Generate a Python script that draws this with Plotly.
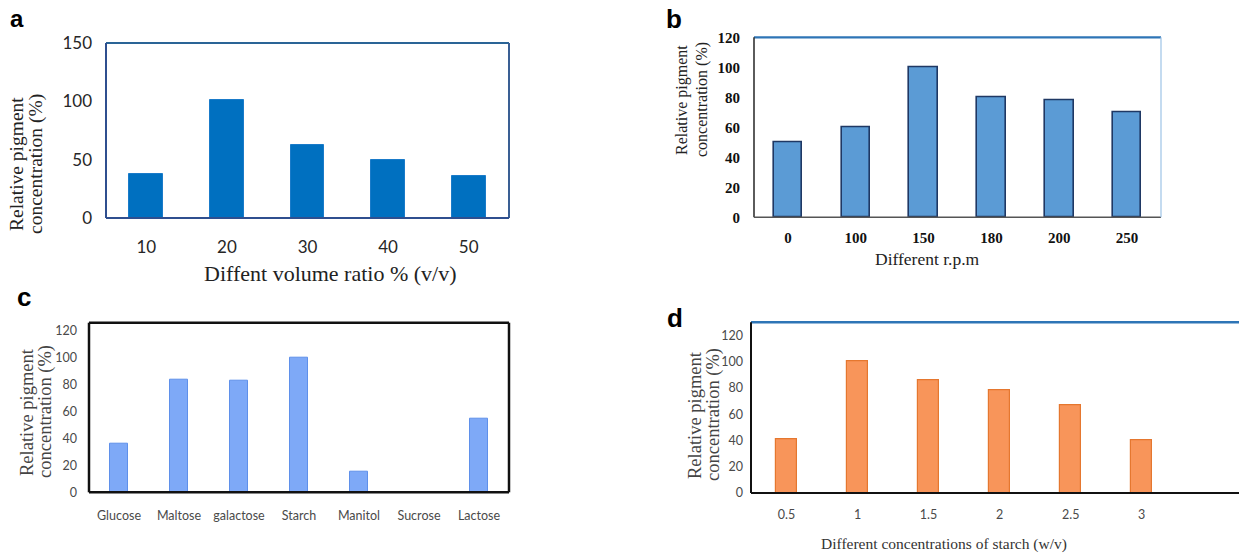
import plotly.graph_objects as go

W, H = 1239, 554

# ---------------- data ----------------
a_cats = ["10", "20", "30", "40", "50"]
a_vals = [38, 101, 63, 50, 36]

b_cats = ["0", "100", "150", "180", "200", "250"]
b_vals = [50, 60, 100, 80, 78, 70]

c_cats = ["Glucose", "Maltose", "galactose", "Starch", "Manitol", "Sucrose", "Lactose"]
c_vals = [36, 84, 83, 100, 15, 0, 55]

d_cats = ["0.5", "1", "1.5", "2", "2.5", "3"]
d_vals = [41, 100, 86, 78, 67, 40]

a_yticks = [0, 50, 100, 150]
b_yticks = [0, 20, 40, 60, 80, 100, 120]
c_yticks = [0, 20, 40, 60, 80, 100, 120]
d_yticks = [0, 20, 40, 60, 80, 100, 120]


def X(px):
    return px / W


def Y(px):
    return 1 - px / H


SERIF = "Liberation Serif, Times New Roman, serif"
SANS = "Lato, Open Sans, sans-serif"

fig = go.Figure()

fig.add_trace(go.Bar(x=a_cats, y=a_vals, width=0.42, xaxis="x", yaxis="y",
                     marker=dict(color="#0070C0", line=dict(color="#1A7BC9", width=1))))
fig.add_trace(go.Bar(x=b_cats, y=b_vals, width=0.42, xaxis="x2", yaxis="y2",
                     marker=dict(color="#5B9BD5", line=dict(color="#1F3864", width=1.6))))
fig.add_trace(go.Bar(x=c_cats, y=c_vals, width=0.29, xaxis="x3", yaxis="y3",
                     marker=dict(color="#7EA9F7", line=dict(color="#5F90EA", width=1))))
fig.add_trace(go.Bar(x=d_cats, y=d_vals, width=0.30, xaxis="x4", yaxis="y4",
                     marker=dict(color="#F8955A", line=dict(color="#E5772F", width=1.2))))

common_x = dict(showgrid=False, zeroline=False, showline=False, ticks="", type="category",
                automargin=False)
common_y = dict(showgrid=False, zeroline=False, showline=False, ticks="", automargin=False)

fig.update_layout(
    width=W, height=H,
    margin=dict(l=0, r=0, t=0, b=0, pad=0, autoexpand=False),
    paper_bgcolor="white", plot_bgcolor="white",
    showlegend=False,
    bargap=0,
    xaxis=dict(common_x, domain=[X(106), X(509)], anchor="y",
               tickfont=dict(family=SANS, size=17, color="#262626"), ticklabelstandoff=17),
    yaxis=dict(common_y, domain=[Y(218), Y(43)], anchor="x", range=[0, 150],
               tickvals=a_yticks, tickfont=dict(family=SANS, size=17, color="#262626"),
               ticklabelstandoff=13),
    xaxis2=dict(common_x, domain=[X(754), X(1161)], anchor="y2",
                tickfont=dict(family=SERIF, size=15, color="#111111", weight="bold"),
                ticklabelstandoff=10),
    yaxis2=dict(common_y, domain=[Y(217.3), Y(37.3)], anchor="x2", range=[0, 120],
                tickvals=b_yticks,
                tickfont=dict(family=SERIF, size=15, color="#111111", weight="bold"),
                ticklabelstandoff=13),
    xaxis3=dict(common_x, domain=[X(89), X(509)], anchor="y3",
                tickfont=dict(family=SANS, size=12.5, color="#4a4a4a"), ticklabelstandoff=14),
    yaxis3=dict(common_y, domain=[Y(492.3), Y(322.7)], anchor="x3", range=[0, 126],
                tickvals=c_yticks, tickfont=dict(family=SANS, size=12.5, color="#4a4a4a"),
                ticklabelstandoff=11),
    xaxis4=dict(common_x, domain=[X(751), 1.0], anchor="y4", range=[-0.5, 6.37],
                tickfont=dict(family=SANS, size=12.5, color="#4a4a4a"), ticklabelstandoff=12),
    yaxis4=dict(common_y, domain=[Y(493), Y(322.3)], anchor="x4", range=[0, 130],
                tickvals=d_yticks, tickfont=dict(family=SANS, size=12.5, color="#4a4a4a"),
                ticklabelstandoff=7),
)


def frame_line(ax, side, color, width):
    xr = f"{ax[0]} domain"
    yr = f"{ax[1]} domain"
    coords = {
        "top": (0, 1, 1, 1),
        "bottom": (0, 0, 1, 0),
        "left": (0, 0, 0, 1),
        "right": (1, 0, 1, 1),
    }[side]
    fig.add_shape(type="line", xref=xr, yref=yr,
                  x0=coords[0], y0=coords[1], x1=coords[2], y1=coords[3],
                  line=dict(color=color, width=width), layer="above")


# panel a frame
frame_line(("x", "y"), "top", "#2A6496", 2)
frame_line(("x", "y"), "left", "#2F4F8F", 2)
frame_line(("x", "y"), "right", "#3A5F94", 2)
frame_line(("x", "y"), "bottom", "#2F4F8F", 2)
# panel b frame
frame_line(("x2", "y2"), "top", "#2E75B6", 2.2)
frame_line(("x2", "y2"), "left", "#333333", 1.6)
frame_line(("x2", "y2"), "bottom", "#555555", 1.6)
frame_line(("x2", "y2"), "right", "#9DC3E6", 1.2)
# panel c frame
for s in ["top", "bottom", "left", "right"]:
    frame_line(("x3", "y3"), s, "#111111", 2.5)
# panel d frame
frame_line(("x4", "y4"), "top", "#2E75B6", 2.5)
frame_line(("x4", "y4"), "left", "#111111", 2)
frame_line(("x4", "y4"), "bottom", "#111111", 2)

ann = []


def label(txt, xpx, ypx, size=24, anchor="middle"):
    ann.append(dict(text=txt, x=X(xpx), y=Y(ypx), xref="paper", yref="paper",
                    xanchor="left", yanchor=anchor, showarrow=False,
                    font=dict(family="Liberation Sans, Arial, sans-serif", size=size,
                              color="black", weight="bold")))


label("a", 8, 3, 24, "top")
label("b", 664, 1.5, 26, "top")
label("c", 15, 297, 26)
label("d", 665, 318, 26)


def ytitle(lines, xs, ycen, size, color):
    for t, xp in zip(lines, xs):
        ann.append(dict(text=t, x=X(xp), y=Y(ycen), xref="paper", yref="paper",
                        xanchor="center", yanchor="middle", showarrow=False,
                        textangle=-90, font=dict(family=SERIF, size=size, color=color)))


yt = ["Relative pigment", "concentration (%)"]
ytitle(yt, [16, 36], 164, 19.5, "#222222")
ytitle(yt, [682, 702], 100, 16, "#222222")
ytitle(yt, [27, 45], 412, 18.5, "#444444")
ytitle(yt, [695, 713], 415, 18.5, "#444444")


def xtitle(t, xpx, ypx, size, color, anchor="middle"):
    ann.append(dict(text=t, x=X(xpx), y=Y(ypx), xref="paper", yref="paper",
                    xanchor="center", yanchor=anchor, showarrow=False,
                    font=dict(family=SERIF, size=size, color=color)))


xtitle("Diffent volume ratio % (v/v)", 330, 273, 22, "#222222")
xtitle("Different r.p.m", 927, 259, 17.5, "#222222")
xtitle("Different concentrations of starch (w/v)", 944, 544, 15.5, "#333333")

fig.update_layout(annotations=ann)

fig.write_html("out.html")
